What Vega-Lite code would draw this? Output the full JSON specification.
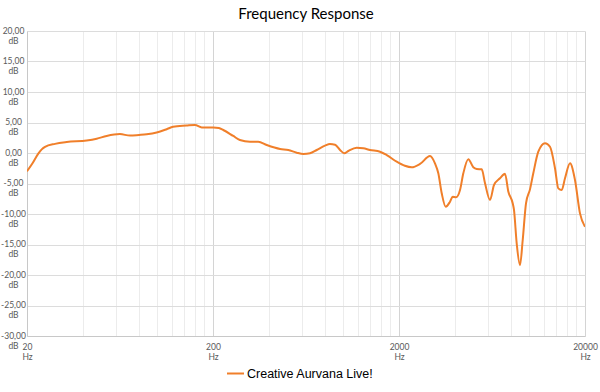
{
  "$schema": "https://vega.github.io/schema/vega-lite/v6.json",
  "autosize": {"type": "none"},
  "width": 558,
  "height": 305,
  "padding": {"left": 27, "top": 31, "right": 15, "bottom": 56},
  "background": "white",
  "title": {"text": "Frequency Response", "font": "Lato", "fontSize": 15, "fontWeight": "normal", "color": "#000000", "anchor": "middle", "baseline": "alphabetic", "offset": -8},
  "config": {"view": {"stroke": null}},
  "data": {"values": [
    {"f": 20, "db": -3.0},
    {"f": 21.5, "db": -1.6},
    {"f": 23, "db": -0.1},
    {"f": 24, "db": 0.6},
    {"f": 25, "db": 1.0},
    {"f": 28.3, "db": 1.5},
    {"f": 32.7, "db": 1.8},
    {"f": 41.9, "db": 2.05},
    {"f": 47.4, "db": 2.35},
    {"f": 53.6, "db": 2.8},
    {"f": 63.2, "db": 3.1},
    {"f": 71.6, "db": 2.85},
    {"f": 80, "db": 2.95},
    {"f": 88, "db": 3.06},
    {"f": 99.6, "db": 3.35},
    {"f": 112.7, "db": 3.9},
    {"f": 122, "db": 4.3},
    {"f": 144, "db": 4.5},
    {"f": 160, "db": 4.6},
    {"f": 174, "db": 4.2},
    {"f": 201, "db": 4.2},
    {"f": 215, "db": 4.1},
    {"f": 227, "db": 3.77},
    {"f": 257, "db": 2.79},
    {"f": 279, "db": 2.13},
    {"f": 316, "db": 1.85},
    {"f": 350, "db": 1.85},
    {"f": 389, "db": 1.31},
    {"f": 459, "db": 0.66},
    {"f": 508, "db": 0.49},
    {"f": 564, "db": 0.05},
    {"f": 612, "db": -0.16},
    {"f": 665, "db": -0.05},
    {"f": 722, "db": 0.49},
    {"f": 800, "db": 1.2},
    {"f": 851, "db": 1.48},
    {"f": 906, "db": 1.36},
    {"f": 964, "db": 0.49},
    {"f": 1016, "db": -0.05},
    {"f": 1068, "db": 0.33},
    {"f": 1185, "db": 0.87},
    {"f": 1286, "db": 0.77},
    {"f": 1397, "db": 0.49},
    {"f": 1581, "db": 0.21},
    {"f": 1718, "db": -0.33},
    {"f": 1944, "db": -1.43},
    {"f": 2150, "db": -2.1},
    {"f": 2340, "db": -2.35},
    {"f": 2594, "db": -1.8},
    {"f": 2936, "db": -0.5},
    {"f": 3122, "db": -1.7},
    {"f": 3254, "db": -3.33},
    {"f": 3394, "db": -6.6},
    {"f": 3566, "db": -8.8},
    {"f": 3762, "db": -7.98},
    {"f": 3890, "db": -7.16},
    {"f": 4052, "db": -7.27},
    {"f": 4257, "db": -6.07},
    {"f": 4434, "db": -3.33},
    {"f": 4716, "db": -1.03},
    {"f": 5018, "db": -2.34},
    {"f": 5234, "db": -2.62},
    {"f": 5568, "db": -2.67},
    {"f": 5802, "db": -4.97},
    {"f": 6170, "db": -7.7},
    {"f": 6484, "db": -5.25},
    {"f": 6982, "db": -4.15},
    {"f": 7430, "db": -3.4},
    {"f": 7738, "db": -6.3},
    {"f": 8172, "db": -8.25},
    {"f": 8300, "db": -9.3},
    {"f": 8586, "db": -14.8},
    {"f": 8944, "db": -18.4},
    {"f": 9248, "db": -14.3},
    {"f": 9634, "db": -8.25},
    {"f": 10122, "db": -5.96},
    {"f": 10544, "db": -3.33},
    {"f": 11220, "db": 0.21},
    {"f": 12190, "db": 1.6},
    {"f": 12968, "db": 1.03},
    {"f": 13794, "db": -2.5},
    {"f": 14370, "db": -5.8},
    {"f": 14988, "db": -6.07},
    {"f": 15614, "db": -4.15},
    {"f": 16612, "db": -1.69},
    {"f": 17670, "db": -4.43},
    {"f": 18798, "db": -9.9},
    {"f": 20000, "db": -12.1}
  ]},
  "mark": {"type": "line", "interpolate": "monotone", "strokeWidth": 2, "clip": true},
  "encoding": {
    "x": {
      "field": "f", "type": "quantitative",
      "scale": {"type": "log", "domain": [20, 20000], "nice": false},
      "axis": {
        "title": null,
        "values": [20,40,60,80,100,120,140,160,180,200,400,600,800,1000,1200,1400,1600,1800,2000,4000,6000,8000,10000,12000,14000,16000,18000,20000],
        "grid": true,
        "gridColor": {"condition": {"test": "indexof([20,200,2000,20000], datum.value) >= 0", "value": "#d4d4d4"}, "value": "#ececec"},
        "gridWidth": 1,
        "ticks": false,
        "domainColor": "#c8c8c8",
        "labelExpr": "indexof([20,200,2000,20000], datum.value) >= 0 ? [format(datum.value, 'd'), 'Hz'] : ''",
        "labelFont": "Lato",
        "labelFontSize": 8.5,
        "labelColor": "#595959",
        "labelBaseline": "top",
        "labelPadding": 6,
        "labelLineHeight": 10,
        "labelOverlap": false,
        "labelFlush": false,
        "labelBound": false
      }
    },
    "y": {
      "field": "db", "type": "quantitative",
      "scale": {"domain": [-30, 20], "nice": false, "zero": false},
      "axis": {
        "title": null,
        "values": [-30,-25,-20,-15,-10,-5,0,5,10,15,20],
        "grid": true,
        "gridColor": "#dcdcdc",
        "ticks": false,
        "domainColor": "#c8c8c8",
        "labelExpr": "[(datum.value < 0 ? '-' : '') + replace(format(abs(datum.value), '.2f'), '.', ','), 'dB']",
        "labelFont": "Lato",
        "labelFontSize": 8.5,
        "labelColor": "#595959",
        "labelAlign": "center",
        "labelBaseline": "middle",
        "labelPadding": 14,
        "labelOffset": -1,
        "labelLineHeight": 10,
        "labelOverlap": false,
        "labelFlush": false,
        "labelBound": false
      }
    },
    "color": {
      "datum": "Creative Aurvana Live!",
      "type": "nominal",
      "scale": {"range": ["#F07F2A"]},
      "legend": {
        "title": null,
        "orient": "none",
        "legendX": 199,
        "legendY": 333,
        "direction": "horizontal",
        "symbolType": "stroke",
        "symbolSize": 289,
        "symbolStrokeWidth": 2,
        "labelFont": "Liberation Sans",
        "labelFontSize": 12.5,
        "labelColor": "#000000",
        "labelOffset": 2
      }
    }
  }
}
